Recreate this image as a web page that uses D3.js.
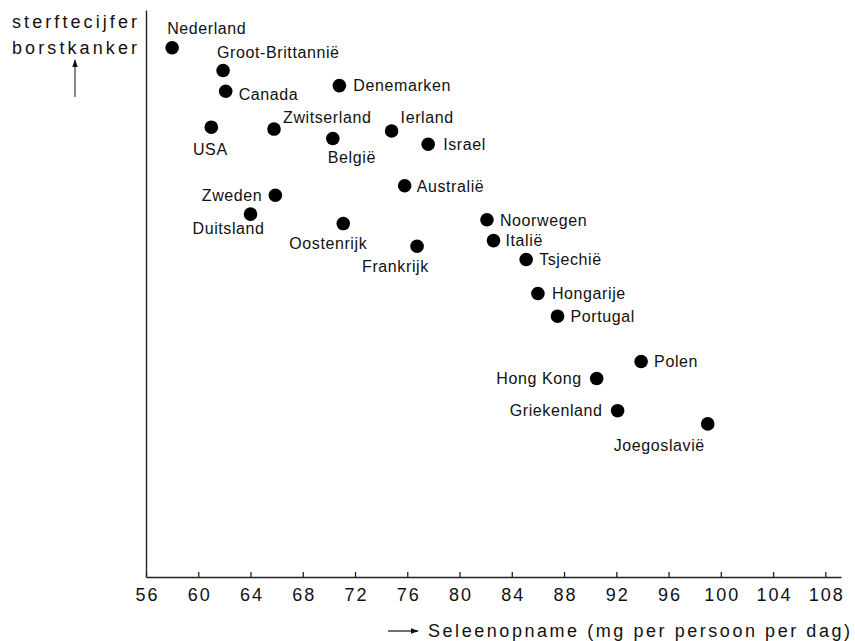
<!DOCTYPE html>
<html>
<head>
<meta charset="utf-8">
<script src="https://cdn.jsdelivr.net/npm/d3@7"></script>
<style>
  body { margin: 0; background: #fff; }
  svg { display: block; }
  .lbl { font-family: "Liberation Sans", Arial, sans-serif; font-size: 16px; letter-spacing: 0.6px; fill: #111; }
  .tick text { font-family: "Liberation Sans", Arial, sans-serif; font-size: 18px; letter-spacing: 2px; fill: #111; }
  .ttl { font-family: "Liberation Sans", Arial, sans-serif; font-size: 18px; fill: #111; }
</style>
</head>
<body>
<div id="chart"></div>
<script>
'use strict';

// data (selenium intake, breast cancer death rate in arbitrary units)
var countries = ["Nederland", "Groot-Brittannië", "Canada", "Denemarken", "USA", "Zwitserland",
                 "België", "Ierland", "Israel", "Australië", "Zweden", "Duitsland", "Oostenrijk",
                 "Frankrijk", "Noorwegen", "Italië", "Tsjechië", "Hongarije", "Portugal",
                 "Polen", "Hong Kong", "Griekenland", "Joegoslavië"];
var seleen = [58.0, 61.9, 62.1, 70.8, 61.0, 65.8,
              70.3, 74.8, 77.6, 75.8, 65.9, 64.0, 71.1,
              76.75, 82.1, 82.6, 85.1, 86.0, 87.5,
              93.9, 90.5, 92.1, 99.0];
var sterfte = [28.0, 26.8, 25.7, 26.0, 23.8, 23.7,
               23.2, 23.6, 22.9, 20.7, 20.2, 19.2, 18.7,
               17.5, 18.9, 17.8, 16.8, 15.0, 13.8,
               11.4, 10.5, 8.8, 8.1];
var xTicks = [56, 60, 64, 68, 72, 76, 80, 84, 88, 92, 96, 100, 104, 108];

// label placement per country: [anchor, dx, dy]
var place = {
    "Nederland": ["start", -5, -20], "Groot-Brittannië": ["start", -6, -18],
    "Canada": ["start", 13, 3], "Denemarken": ["start", 14, 0],
    "USA": ["middle", -1, 22], "Zwitserland": ["start", 9, -12],
    "België": ["start", -5, 19], "Ierland": ["start", 9, -14],
    "Israel": ["start", 15, 0], "Australië": ["start", 12, 0],
    "Zweden": ["end", -13, 0], "Duitsland": ["start", -58, 14],
    "Oostenrijk": ["start", -54, 20], "Frankrijk": ["start", -55, 20],
    "Noorwegen": ["start", 13, 0], "Italië": ["start", 12, 0],
    "Tsjechië": ["start", 13, 0], "Hongarije": ["start", 14, 0],
    "Portugal": ["start", 13, 0], "Polen": ["start", 13, 0],
    "Hong Kong": ["end", -15, 0], "Griekenland": ["end", -15, 0],
    "Joegoslavië": ["start", -94, 21]
};

var W = 855, H = 641;
var svg = d3.select("#chart").append("svg").attr("width", W).attr("height", H);

var x = d3.scaleLinear().domain([56, 109.2]).range([146, 841]);
var y = d3.scaleLinear().domain([0, 30]).range([577, 10]);

var data = countries.map(function(c, i) { return {name: c, x: seleen[i], y: sterfte[i]}; });

// x axis with small upward ticks
var xa = svg.append("g")
    .attr("transform", "translate(0," + y(0) + ")")
    .call(d3.axisBottom(x).tickValues(xTicks).tickSize(-5).tickSizeOuter(0).tickPadding(8));
xa.select(".domain").attr("stroke", "#222").attr("stroke-width", 1.4);
xa.selectAll(".tick line").attr("stroke", "#222").attr("stroke-width", 1.3);
xa.selectAll(".tick text").attr("dy", "0.9em").attr("dx", "1px");

// y axis, no ticks
var ya = svg.append("g")
    .attr("transform", "translate(" + x(56) + ",0)")
    .call(d3.axisLeft(y).tickValues([]).tickSizeOuter(0));
ya.select(".domain").attr("stroke", "#222").attr("stroke-width", 1.4);

// points
svg.append("g").selectAll("circle")
    .data(data).enter().append("circle")
    .attr("cx", function(d) { return x(d.x); })
    .attr("cy", function(d) { return y(d.y); })
    .attr("r", 6.8)
    .attr("fill", "#000");

// country labels
svg.append("g").selectAll("text")
    .data(data).enter().append("text")
    .attr("class", "lbl")
    .attr("x", function(d) { return x(d.x) + place[d.name][1]; })
    .attr("y", function(d) { return y(d.y) + place[d.name][2]; })
    .attr("dy", "0.36em")
    .attr("text-anchor", function(d) { return place[d.name][0]; })
    .text(function(d) { return d.name; });

// arrowhead marker
svg.append("defs").append("marker")
    .attr("id", "ah").attr("viewBox", "0 0 10 10")
    .attr("refX", 9).attr("refY", 5)
    .attr("markerWidth", 8).attr("markerHeight", 8)
    .attr("markerUnits", "userSpaceOnUse")
    .attr("orient", "auto")
    .append("path").attr("d", "M0,1.5L10,5L0,8.5z").attr("fill", "#111");

// y title
svg.append("text").attr("class", "ttl").attr("x", 12).attr("y", 28)
    .attr("textLength", 125).attr("lengthAdjust", "spacing").text("sterftecijfer");
svg.append("text").attr("class", "ttl").attr("x", 12).attr("y", 54)
    .attr("textLength", 125).attr("lengthAdjust", "spacing").text("borstkanker");
svg.append("line").attr("x1", 75).attr("x2", 75).attr("y1", 97).attr("y2", 60)
    .attr("stroke", "#111").attr("stroke-width", 1).attr("marker-end", "url(#ah)");

// x title
svg.append("line").attr("x1", 388).attr("x2", 418).attr("y1", 631).attr("y2", 631)
    .attr("stroke", "#111").attr("stroke-width", 1.2).attr("marker-end", "url(#ah)");
svg.append("text").attr("class", "ttl").attr("x", 428).attr("y", 637)
    .attr("textLength", 422).attr("lengthAdjust", "spacing")
    .text("Seleenopname (mg per persoon per dag)");
</script>
</body>
</html>
